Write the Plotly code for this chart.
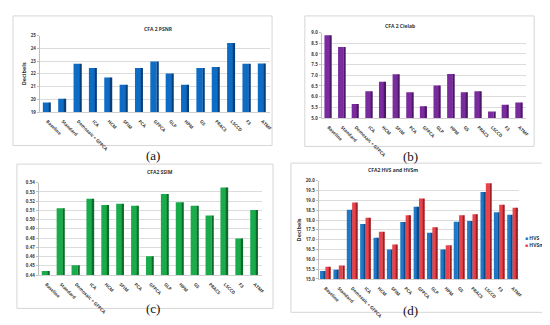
import plotly.graph_objects as go

methods = ["Baseline", "Standard", "Demosaic + GFPCA", "ICA", "HCM", "SFIM", "PCA",
           "GFPCA", "GLP", "HPM", "GS", "PRACS", "LSCCD", "F3", "ATMF"]
psnr = [19.75, 20.05, 22.78, 22.45, 21.72, 21.14, 22.45, 22.97, 22.02, 21.14,
        22.45, 22.53, 24.42, 22.78, 22.8]
cielab = [8.87, 8.32, 5.65, 6.25, 6.7, 7.05, 6.2, 5.55, 6.52, 7.06,
          6.2, 6.25, 5.3, 5.62, 5.73]
ssim = [0.4445, 0.5125, 0.4507, 0.5228, 0.5160, 0.5173, 0.5150, 0.4603, 0.5277,
        0.5190, 0.5150, 0.5045, 0.5350, 0.4795, 0.5105]
hvs = [15.4, 15.47, 18.53, 17.8, 17.1, 16.5, 17.9, 18.68, 17.35, 16.5,
       17.92, 17.95, 19.43, 18.4, 18.27]
hvsm = [15.62, 15.68, 18.9, 18.12, 17.4, 16.75, 18.25, 19.1, 17.63, 16.72,
        18.25, 18.3, 19.88, 18.78, 18.63]
series_names = ["HVS", "HVSm"]

W, H = 550, 325


def px(x):
    return x / W


def py(y):
    return 1 - y / H


fig = go.Figure()

# panel boxes
boxes = [(5, 5, 266, 137), (299, 5, 530, 138), (9, 156, 267, 303), (285, 155, 549, 307)]
for x0, y0, x1, y1 in boxes:
    fig.add_shape(type="rect", xref="paper", yref="paper",
                  x0=px(x0), x1=px(x1), y0=py(y1), y1=py(y0),
                  line=dict(color="#d6d6d6", width=1), fillcolor="white", layer="below")


def add_bars(vals, xa, ya, front, side, off, wid, name=None):
    fig.add_trace(go.Bar(x=methods, y=vals, xaxis=xa, yaxis=ya, offset=off, width=wid,
                         marker=dict(color=front, line=dict(width=0)),
                         name=name, showlegend=False))
    fig.add_trace(go.Bar(x=methods, y=vals, xaxis=xa, yaxis=ya, offset=off + wid, width=0.1,
                         marker=dict(color=side, line=dict(width=0)),
                         showlegend=False, hoverinfo="skip"))


add_bars(psnr, "x", "y", "#0f6cc4", "#0a3e78", -0.3, 0.42)
add_bars(cielab, "x2", "y2", "#7a2c9e", "#4a1866", -0.3, 0.42)
add_bars(ssim, "x3", "y3", "#1aab4b", "#0c6a2a", -0.3, 0.42)
add_bars(hvs, "x4", "y4", "#1f77c6", "#0e4a86", -0.4, 0.3, name=series_names[0])
add_bars(hvsm, "x4", "y4", "#e8434a", "#9e2026", 0.0, 0.3, name=series_names[1])

tickfont = dict(family="Open Sans", size=4.5, color="#404040", weight="bold")

domains = {
    "": ((32, 264), (25, 103), [19, 25], 1, ".0f"),
    "2": ((316, 522), (22, 109), [5, 9], 0.5, ".1f"),
    "3": ((31, 256), (175, 269), [0.44, 0.54], 0.01, ".2f"),
    "4": ((313, 515), (173, 273), [15, 20], 0.5, ".1f"),
}
lay = {}
for k, ((xa, xb), (yt, yb), rng, dt, fmt) in domains.items():
    lay["xaxis" + k] = dict(domain=[px(xa), px(xb)], anchor="y" + k, type="category",
                            tickangle=45, tickfont=tickfont, showgrid=False,
                            showline=True, linecolor="#d0d0d0", ticks="",
                            ticklabelstandoff=4, fixedrange=True)
    lay["yaxis" + k] = dict(domain=[py(yb), py(yt)], anchor="x" + k, range=rng, dtick=dt,
                            tick0=rng[0], tickformat=fmt, tickfont=tickfont,
                            showgrid=True, gridcolor="#dcdcdc", gridwidth=1,
                            showline=True, linecolor="#bfbfbf", ticks="outside",
                            ticklen=2, tickcolor="#bfbfbf", zeroline=False)

ytfont = dict(family="Open Sans", size=5.5, color="#333", weight="bold")
lay["yaxis"]["title"] = dict(text="Decibels", font=ytfont, standoff=3)
lay["yaxis4"]["title"] = dict(text="Decibels", font=ytfont, standoff=3)

titles = [("CFA 2 PSNR", 135, 13), ("CFA 2 Cielab", 412, 10),
          ("CFA2 SSIM", 138, 164), ("CFA2 HVS and HVSm", 415, 162)]
anns = []
for t, x, y in titles:
    anns.append(dict(text=t, x=px(x), y=py(y), xref="paper", yref="paper", showarrow=False,
                     font=dict(family="Open Sans", size=5, color="#333", weight="bold")))
for t, x, y in [("(a)", 137, 147), ("(b)", 415, 148), ("(c)", 137, 313), ("(d)", 415, 315)]:
    anns.append(dict(text=t, x=px(x), y=py(y), xref="paper", yref="paper", showarrow=False,
                     font=dict(family="Liberation Serif", size=13, color="#111")))
# legend
for name, col, y in [(series_names[0], "#1f77c6", 236), (series_names[1], "#e8434a", 243)]:
    anns.append(dict(text=f'<span style="color:{col}">■</span> {name}', x=px(519), y=py(y),
                     xref="paper", yref="paper", xanchor="left", showarrow=False,
                     font=dict(family="Open Sans", size=5, color="#333", weight="bold")))

fig.update_layout(
    width=W, height=H, margin=dict(l=0, r=0, t=0, b=0),
    paper_bgcolor="white", plot_bgcolor="rgba(0,0,0,0)",
    barmode="overlay", annotations=anns, showlegend=False,
    **lay,
)

fig.write_html("out.html")
